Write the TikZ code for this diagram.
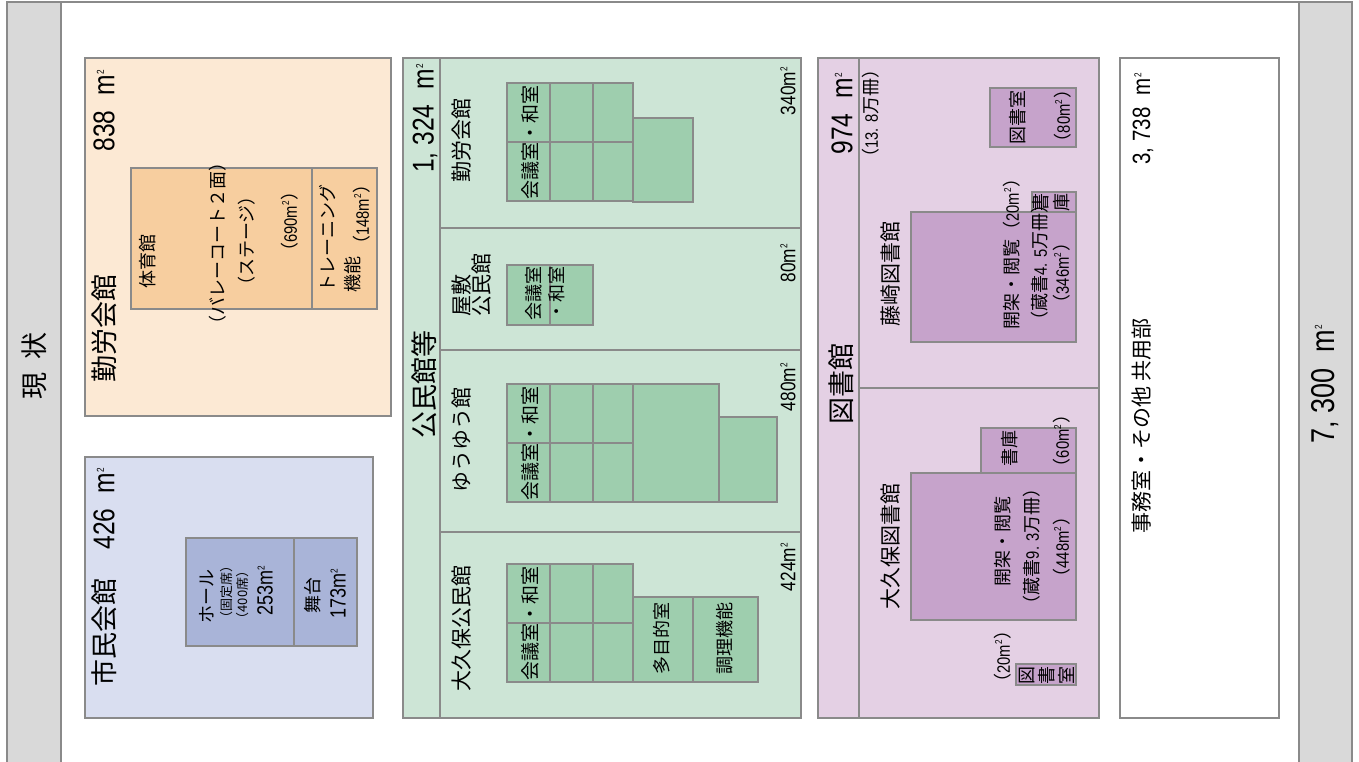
\documentclass[tikz,border=0pt]{standalone}
\usepackage{fontspec}
\setmainfont{Noto Sans CJK JP}
\newfontfamily\numfont[FakeStretch=0.82]{Liberation Sans}
\newcommand{\sqm}{m\textsuperscript{\tiny 2}}
\newcommand{\nf}[1]{{\numfont #1}}
\definecolor{edge}{RGB}{138,138,138}
\definecolor{bar}{RGB}{217,217,217}
\definecolor{kinroBg}{RGB}{252,233,212}
\definecolor{kinroRm}{RGB}{247,206,159}
\definecolor{shiminBg}{RGB}{217,222,240}
\definecolor{shiminRm}{RGB}{169,180,216}
\definecolor{kominBg}{RGB}{205,229,214}
\definecolor{kominRm}{RGB}{158,206,174}
\definecolor{toshoBg}{RGB}{228,208,228}
\definecolor{toshoRm}{RGB}{198,163,203}
\begin{document}
\begin{tikzpicture}[x=0.5pt, y=-0.5pt,
    bx/.style={draw=edge, line width=0.6pt},
    lbl/.style={rotate=90, inner sep=0pt},
    ttl/.style={lbl, font=\fontsize{13.5}{16}\selectfont},
    tot/.style={lbl, font=\fontsize{15}{17}\selectfont\numfont},
    sub/.style={lbl, font=\fontsize{10.5}{13}\selectfont},
    subtot/.style={lbl, font=\fontsize{10.5}{12}\selectfont\numfont},
    rm/.style={lbl, font=\fontsize{9}{11}\selectfont, align=center}]
    \useasboundingbox (0,0) rectangle (1359,761);
    \fill[white] (0,0) rectangle (1359,761);

    % side bars and top edge
    \draw[bx, fill=bar] (7,2) rectangle (61,770);
    \draw[bx] (61,2) -- (1299,2);
    \draw[bx, fill=bar] (1299,2) rectangle (1352,770);
    \node[ttl] (now) at (34,366) {現\hspace{0.5em}状};
    \node[tot, font=\fontsize{16.5}{19}\selectfont\numfont] (sum) at (1325,384) {7, 300\enspace\sqm};

    % 勤労会館
    \draw[bx, fill=kinroBg] (85,58) rectangle (391,416);
    \draw[bx, fill=kinroRm] (131,168) rectangle (312,309) (312,168) rectangle (377,309);
    \node[ttl, anchor=west] (kinro) at (104,383) {勤労会館};
    \node[tot, anchor=east] (kinro-m) at (104,69) {838\enspace\sqm};
    \node[rm] (gym) at (148,261) {体育館};
    \node[rm] (gym-a) at (218,243) {（バレーコート２面）};
    \node[rm] (gym-b) at (247,241) {（ステージ）};
    \node[rm, anchor=east] (gym-m) at (290,182) {（\nf{690\sqm}）};
    \node[rm, anchor=west] (trn) at (328,293) {トレーニング};
    \node[rm, anchor=west] (trn-b) at (353,293) {機能};
    \node[rm, anchor=east] (trn-m) at (362,175) {（\nf{148\sqm}）};

    % 市民会館
    \draw[bx, fill=shiminBg] (85,457) rectangle (373,718);
    \draw[bx, fill=shiminRm] (186,538) rectangle (294,646) (294,538) rectangle (357,646);
    \node[ttl, anchor=west] (shimin) at (104,687) {市民会館};
    \node[tot, anchor=east] (shimin-m) at (104,467) {426\enspace\sqm};
    \node[rm] (hall) at (207,596) {ホール};
    \node[rm, font=\fontsize{6.5}{8}\selectfont] (hall-a) at (227,592) {（固定席）};
    \node[rm, font=\fontsize{6.5}{8}\selectfont] (hall-b) at (243,595) {（400席）};
    \node[rm, font=\fontsize{11}{13}\selectfont\numfont] (hall-m) at (265,590) {253\sqm};
    \node[rm] (stage) at (313,595) {舞台};
    \node[rm, font=\fontsize{11}{13}\selectfont\numfont] (stage-m) at (338,593) {173\sqm};

    % 公民館等
    \draw[bx, fill=kominBg] (403,58) rectangle (801,718);
    \draw[bx] (440,58) -- (440,718);
    \foreach \y in {228,350,532}
        \draw[bx] (440,\y) -- (801,\y);
    \node[ttl] (komin) at (424,384) {公民館等};
    \node[tot, anchor=east] (komin-m) at (425,63) {1, 324\enspace\sqm};
    % meeting rooms, two rows of three
    \foreach \y in {83,384,564}
        \foreach \xa/\xb in {507/550,550/593,593/633}
            \draw[bx, fill=kominRm] (\xa,\y) rectangle (\xb,\y+59) (\xa,\y+59) rectangle (\xb,\y+118);
    \draw[bx, fill=kominRm] (633,118) rectangle (693,202);
    \draw[bx, fill=kominRm] (507,265) rectangle (550,325) (550,265) rectangle (593,325);
    \draw[bx, fill=kominRm] (633,384) rectangle (719,502) (719,417) rectangle (777,502);
    \draw[bx, fill=kominRm] (633,597) rectangle (693,682) (693,597) rectangle (758,682);
    \foreach \y/\n in {142/a,443/b,623/c}
        \node[rm, font=\fontsize{9.5}{11}\selectfont] (meet-\n) at (530,\y) {会議室・和室};
    \node[sub, anchor=west] (k1) at (462,183) {勤労会館};
    \node[subtot, anchor=east] (k1-m) at (788,66) {340\sqm};
    \node[sub, anchor=west] (k2) at (461,317) {屋敷};
    \node[sub, anchor=west] (k2-b) at (482,317) {公民館};
    \node[rm, font=\fontsize{9}{11.5}\selectfont] (k2-room) at (545,293) {会議室\\・和室};
    \node[subtot, anchor=east] (k2-m) at (788,243) {80\sqm};
    \node[sub, anchor=west] (k3) at (462,493) {ゆうゆう館};
    \node[subtot, anchor=east] (k3-m) at (788,362) {480\sqm};
    \node[sub, anchor=west] (k4) at (462,692) {大久保公民館};
    \node[rm] (k4-multi) at (662,638) {多目的室};
    \node[rm] (k4-cook) at (725,638) {調理機能};
    \node[subtot, anchor=east] (k4-m) at (788,542) {424\sqm};

    % 図書館
    \draw[bx, fill=toshoBg] (818,58) rectangle (1099,718);
    \draw[bx] (859,58) -- (859,718) (859,388) -- (1099,388);
    \node[ttl] (tosho) at (841,384) {図書館};
    \node[tot, anchor=east] (tosho-m) at (842,72) {974\enspace\sqm};
    \node[rm, anchor=east] (tosho-v) at (871,60) {（\nf{13. 8}万冊）};
    % 藤崎
    \draw[bx, fill=toshoRm] (990,88) rectangle (1076,147);
    \draw[bx, fill=toshoRm] (1032,192) rectangle (1076,212);
    \draw[bx, fill=toshoRm] (911,212) rectangle (1076,342);
    \node[sub, anchor=west] (fuji) at (891,327) {藤崎図書館};
    \node[rm] (fuji-s) at (1018,117) {図書室};
    \node[rm] (fuji-s-m) at (1063,116) {（\nf{80\sqm}）};
    \node[rm, font=\fontsize{9}{10.5}\selectfont] (fuji-k) at (1051,202) {書\\庫};
    \node[rm, anchor=west] (fuji-a) at (1012,330) {開架・閲覧（\nf{20\sqm}）};
    \node[rm, anchor=west] (fuji-b) at (1040,330) {（蔵書\nf{4. 5}万冊）};
    \node[rm] (fuji-m) at (1062,273) {（\nf{346\sqm}）};
    % 大久保
    \draw[bx, fill=toshoRm] (981,428) rectangle (1076,473);
    \draw[bx, fill=toshoRm] (911,473) rectangle (1076,620);
    \draw[bx, fill=toshoRm] (1016,664) rectangle (1076,685);
    \node[sub, anchor=west] (okubo) at (891,610) {大久保図書館};
    \node[rm] (okubo-k) at (1010,448) {書庫};
    \node[rm] (okubo-k-m) at (1062,441) {（\nf{60\sqm}）};
    \node[rm] (okubo-a) at (1003,541) {開架・閲覧};
    \node[rm] (okubo-b) at (1032,546) {（蔵書\nf{9. 3}万冊）};
    \node[rm] (okubo-m) at (1062,547) {（\nf{448\sqm}）};
    \node[rm, font=\fontsize{9}{10}\selectfont] (okubo-s) at (1047,675) {図\\書\\室};
    \node[rm, anchor=west] (okubo-s-m) at (1003,692) {（\nf{20\sqm}）};

    % 事務室・共用部
    \draw[bx, fill=white] (1120,58) rectangle (1279,718);
    \node[tot, anchor=east, font=\fontsize{12.5}{14}\selectfont\numfont] (office-m) at (1143,72) {3, 738\enspace\sqm};
    \node[sub] (office) at (1142,426) {事務室・その他 共用部};
\end{tikzpicture}
\end{document}
